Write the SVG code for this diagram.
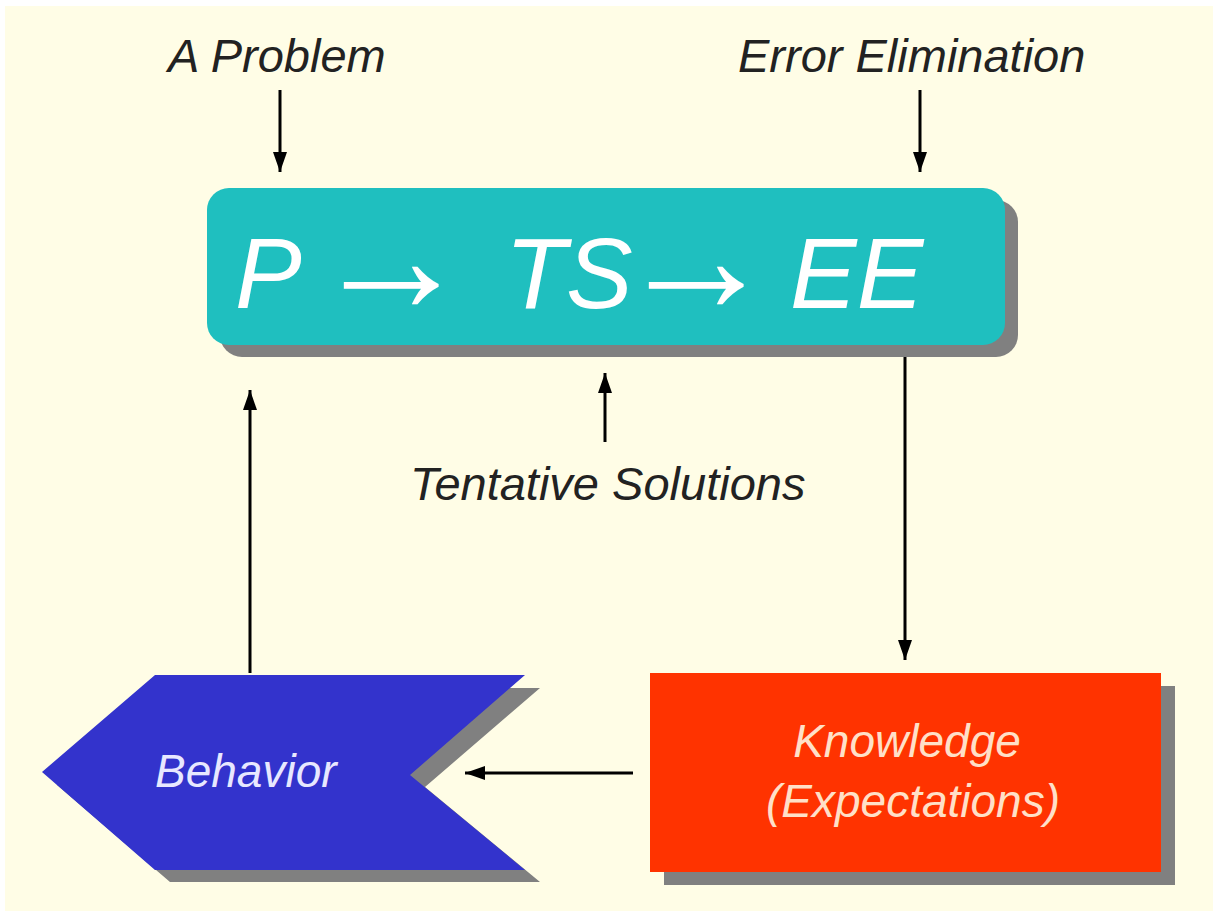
<svg xmlns="http://www.w3.org/2000/svg" width="1213" height="911" viewBox="0 0 1213 911">
<defs>
<marker id="ah" viewBox="0 0 20 14" refX="20" refY="7" markerWidth="20" markerHeight="14" markerUnits="userSpaceOnUse" orient="auto">
<path d="M0,0 L20,7 L0,14 Z" fill="#000"/>
</marker>
<style>
.lbl{font-family:"Liberation Sans",Arial,sans-serif;font-style:italic;font-size:47px;fill:#222}
.conn line{stroke:#000;stroke-width:3;marker-end:url(#ah)}
.shadow{fill:#808080}
.big{font-family:"Liberation Sans",Arial,sans-serif;font-style:italic;font-size:100px;fill:#fff}
.arr{font-size:160px}
.inner{font-family:"Liberation Sans",Arial,sans-serif;font-style:italic;font-size:46px}
</style>
</defs>
<rect x="0" y="0" width="1213" height="911" fill="#fff"/>
<rect x="5" y="6" width="1208" height="905" fill="#fffde6"/>

<g id="labels">
<text class="lbl" x="168" y="72">A Problem</text>
<text class="lbl" x="738" y="72">Error Elimination</text>
<text class="lbl" x="410" y="500">Tentative Solutions</text>
</g>

<g id="process">
<rect class="shadow" x="220" y="200" width="798" height="157" rx="22"/>
<rect x="207" y="188" width="798" height="157" rx="22" fill="#1fbfbf"/>
<text class="big" y="308"><tspan x="235">P</tspan><tspan class="arr" x="311" y="312">→</tspan><tspan x="505" y="308">TS</tspan><tspan class="arr" x="616" y="312">→</tspan><tspan x="790" y="308">EE</tspan></text>
</g>

<g id="behavior">
<polygon class="shadow" points="170,688 540,688 425,787 540,882 170,882 57,785"/>
<polygon points="155,675 525,675 410,775 525,870 155,870 42,772" fill="#3333cc"/>
<text class="inner" x="155" y="787" fill="#e8e8ff">Behavior</text>
</g>

<g id="knowledge">
<rect class="shadow" x="664" y="686" width="511" height="199"/>
<rect x="650" y="673" width="511" height="199" fill="#ff3300"/>
<text class="inner" text-anchor="middle" fill="#ffe0c8"><tspan x="907" y="757">Knowledge</tspan><tspan x="913" y="817">(Expectations)</tspan></text>
</g>

<g class="conn" id="connectors">
<line x1="280" y1="90" x2="280" y2="172"/>
<line x1="920" y1="90" x2="920" y2="172"/>
<line x1="605" y1="442" x2="605" y2="373"/>
<line x1="905" y1="357" x2="905" y2="660"/>
<line x1="250" y1="673" x2="250" y2="390"/>
<line x1="633" y1="773" x2="465" y2="773"/>
</g>
</svg>
